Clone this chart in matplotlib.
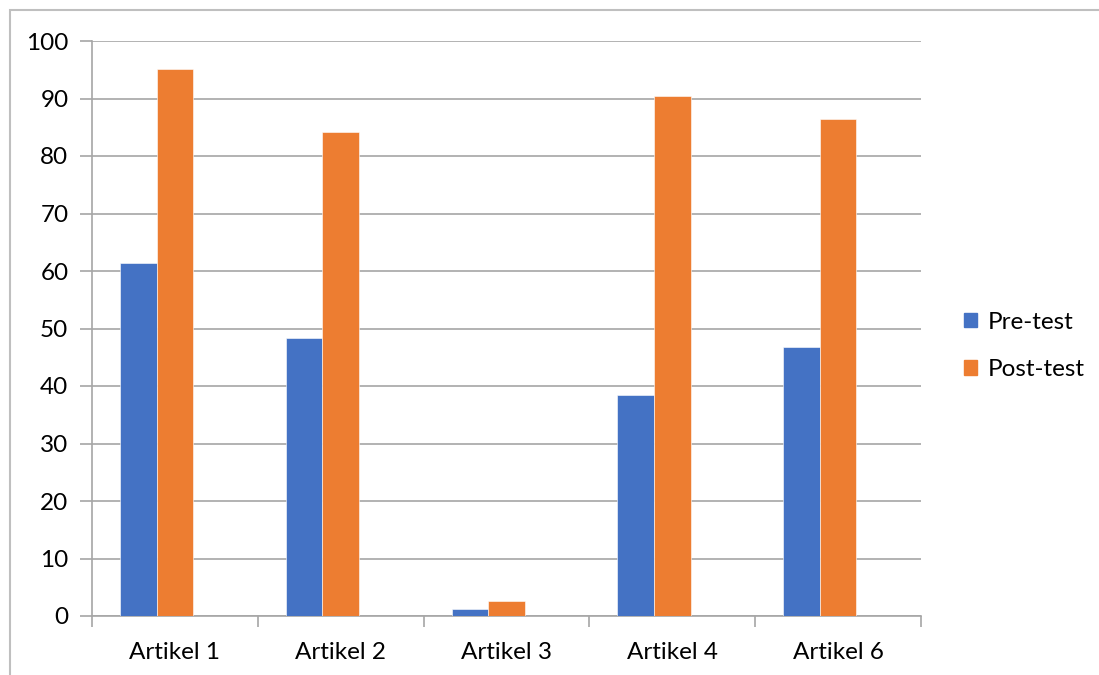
import numpy as np
import matplotlib.pyplot as plt
from matplotlib.patches import Patch, Rectangle

categories = ["Artikel 1", "Artikel 2", "Artikel 3", "Artikel 4", "Artikel 6"]
pre_test = [61.4, 48.4, 1.2, 38.5, 46.7]
post_test = [95.2, 84.1, 2.6, 90.5, 86.4]

blue = "#4472c4"
orange = "#ed7d31"
grid_col = "#a6a6a6"

plt.rcParams['font.family'] = ['Lato', 'DejaVu Sans']

fig = plt.figure(figsize=(10.99, 6.75), dpi=100)
ax = fig.add_axes([92 / 1099, 1 - 616 / 675, (921 - 92) / 1099, (616 - 41) / 675])

x = np.arange(len(categories))
w = 0.221
# excel layout with an empty third series -> pair sits left of centre
ax.bar(x - w, pre_test, w, color=blue, edgecolor="white", linewidth=0.4, zorder=3)
ax.bar(x, post_test, w, color=orange, edgecolor="white", linewidth=0.4, zorder=3)

ax.set_xlim(-0.5, len(categories) - 0.5)
ax.set_ylim(0, 100)
ax.set_yticks(range(0, 101, 10))
ax.set_xticks(x)
ax.set_xticklabels(categories)
ax.set_xticks(np.arange(-0.5, len(categories), 1), minor=True)

ax.grid(axis="y", color=grid_col, linewidth=1.2, zorder=0)
ax.tick_params(axis="y", length=9, width=1.2, color=grid_col, labelsize=17.5, pad=8)
ax.tick_params(axis="x", which="major", length=0, labelsize=17.5, pad=19)
ax.tick_params(axis="x", which="minor", length=8, width=1.2, color=grid_col)
for side in ["top", "right"]:
    ax.spines[side].set_visible(False)
for side in ["left", "bottom"]:
    ax.spines[side].set_color(grid_col)
    ax.spines[side].set_linewidth(1.2)

handles = [Patch(color=blue, label="Pre-test"), Patch(color=orange, label="Post-test")]
fig.legend(handles=handles, loc="center left", bbox_to_anchor=(942 / 1099, 1 - 346 / 675),
           frameon=False, fontsize=17.5, handlelength=0.55, handleheight=0.55,
           handletextpad=0.45, labelspacing=1.1)

# outer chart border (partly cut off in the original)
fig.patches.append(Rectangle((9.5 / 1099, -0.1), 1.2, 1 - 10.5 / 675 + 0.1,
                             transform=fig.transFigure, fill=False,
                             edgecolor="#bfbfbf", linewidth=1.5))

fig.savefig("out.png", dpi=100)
